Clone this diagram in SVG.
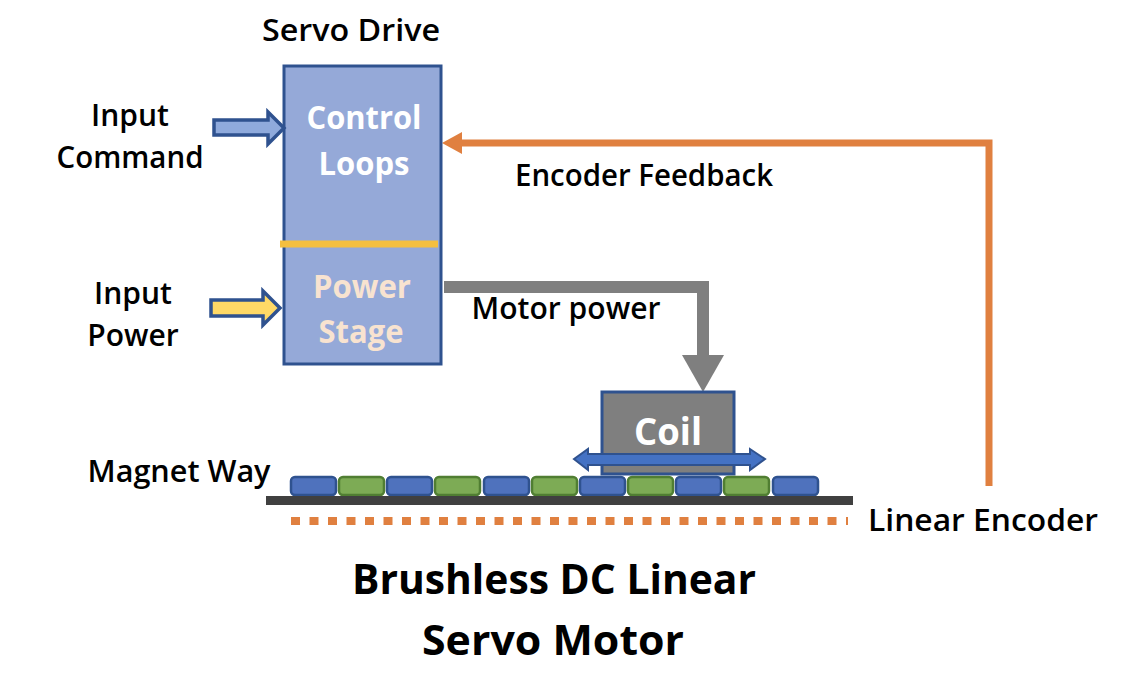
<svg xmlns="http://www.w3.org/2000/svg" width="1138" height="689" viewBox="0 0 1138 689">
<style>
text{font-family:"Open Sans","Noto Sans",sans-serif;font-size:30px;font-weight:600;fill:#000;text-anchor:middle}
.w{font-size:32px;font-weight:700;fill:#fff}
.p{font-size:32px;font-weight:700;fill:#f8e3d0}
.b{font-size:41px;font-weight:700}
.bl{fill:#4f72bd;stroke:#2f528f;stroke-width:2.5}
.gr{fill:#7dab55;stroke:#507e32;stroke-width:2.5}
</style>
<rect width="1138" height="689" fill="#fff"/>
<g id="connectors">
<polyline points="444,287 703,287 703,360" fill="none" stroke="#7f7f7f" stroke-width="12"/>
<polygon points="682,355 724,355 703,392" fill="#7f7f7f"/>
<polyline points="989,486 989,143 460,143" fill="none" stroke="#e08040" stroke-width="7"/>
<polygon points="442,143 462,132 462,154" fill="#e08040"/>
</g>
<g id="servo-drive"><rect x="284" y="66" width="157" height="298" fill="#95a9d8" stroke="#2f528f" stroke-width="3"/>
<line x1="280" y1="244" x2="438" y2="244" stroke="#f4bf40" stroke-width="7"/>
<text class="w" x="364" y="129" textLength="115" lengthAdjust="spacingAndGlyphs">Control</text><text class="w" x="364" y="175" textLength="91" lengthAdjust="spacingAndGlyphs">Loops</text>
<text class="p" x="362" y="298" textLength="98" lengthAdjust="spacingAndGlyphs">Power</text><text class="p" x="361" y="343" textLength="85" lengthAdjust="spacingAndGlyphs">Stage</text>
<text x="351" y="41" textLength="178" lengthAdjust="spacingAndGlyphs">Servo Drive</text></g>
<g id="input-command"><polygon points="214,120 268,120 268,112 284,128 268,144 268,135 214,135" fill="#8faadc" stroke="#2f528f" stroke-width="3.5"/>
<text x="130" y="126">Input</text><text x="130" y="168" textLength="147" lengthAdjust="spacingAndGlyphs">Command</text></g>
<g id="input-power"><polygon points="211,300 263,300 263,291 280,308 263,325 263,316 211,316" fill="#ffd966" stroke="#2f528f" stroke-width="3.5"/>
<text x="133" y="304">Input</text><text x="133" y="346">Power</text></g>
<g id="motor-power"><text x="566" y="319" textLength="189" lengthAdjust="spacingAndGlyphs">Motor power</text></g>
<g id="encoder-feedback"><text x="644" y="186" textLength="258" lengthAdjust="spacingAndGlyphs">Encoder Feedback</text></g>
<g id="coil"><rect x="602" y="392" width="132" height="82" fill="#7f7f7f" stroke="#2f528f" stroke-width="3"/>
<text class="w" x="668" y="445" style="font-size:38px" textLength="68" lengthAdjust="spacingAndGlyphs">Coil</text>
<polygon points="574,459 588,449 588,454 750,454 750,449 765,459 750,470 750,465 588,465 588,470" fill="#4472c4" stroke="#2f528f" stroke-width="2"/></g>
<g id="magnet-way">
<rect class="bl" x="291" y="477" width="45" height="18" rx="4"/><rect class="gr" x="339" y="477" width="45" height="18" rx="4"/>
<rect class="bl" x="387" y="477" width="45" height="18" rx="4"/><rect class="gr" x="435" y="477" width="45" height="18" rx="4"/>
<rect class="bl" x="484" y="477" width="45" height="18" rx="4"/><rect class="gr" x="532" y="477" width="45" height="18" rx="4"/>
<rect class="bl" x="580" y="477" width="45" height="18" rx="4"/><rect class="gr" x="628" y="477" width="45" height="18" rx="4"/>
<rect class="bl" x="676" y="477" width="45" height="18" rx="4"/><rect class="gr" x="724" y="477" width="45" height="18" rx="4"/>
<rect class="bl" x="773" y="477" width="45" height="18" rx="4"/>
<rect x="266" y="496" width="587" height="9" fill="#404040"/>
<text x="179" y="482" textLength="183" lengthAdjust="spacingAndGlyphs">Magnet Way</text></g>
<g id="linear-encoder"><line x1="291" y1="521" x2="848" y2="521" stroke="#e08040" stroke-width="8" stroke-dasharray="9 9.5"/>
<text x="983" y="531" textLength="230" lengthAdjust="spacingAndGlyphs">Linear Encoder</text></g>
<g id="title"><text class="b" x="554" y="594" textLength="404" lengthAdjust="spacingAndGlyphs">Brushless DC Linear</text><text class="b" x="553" y="655" textLength="262" lengthAdjust="spacingAndGlyphs">Servo Motor</text></g>
</svg>
